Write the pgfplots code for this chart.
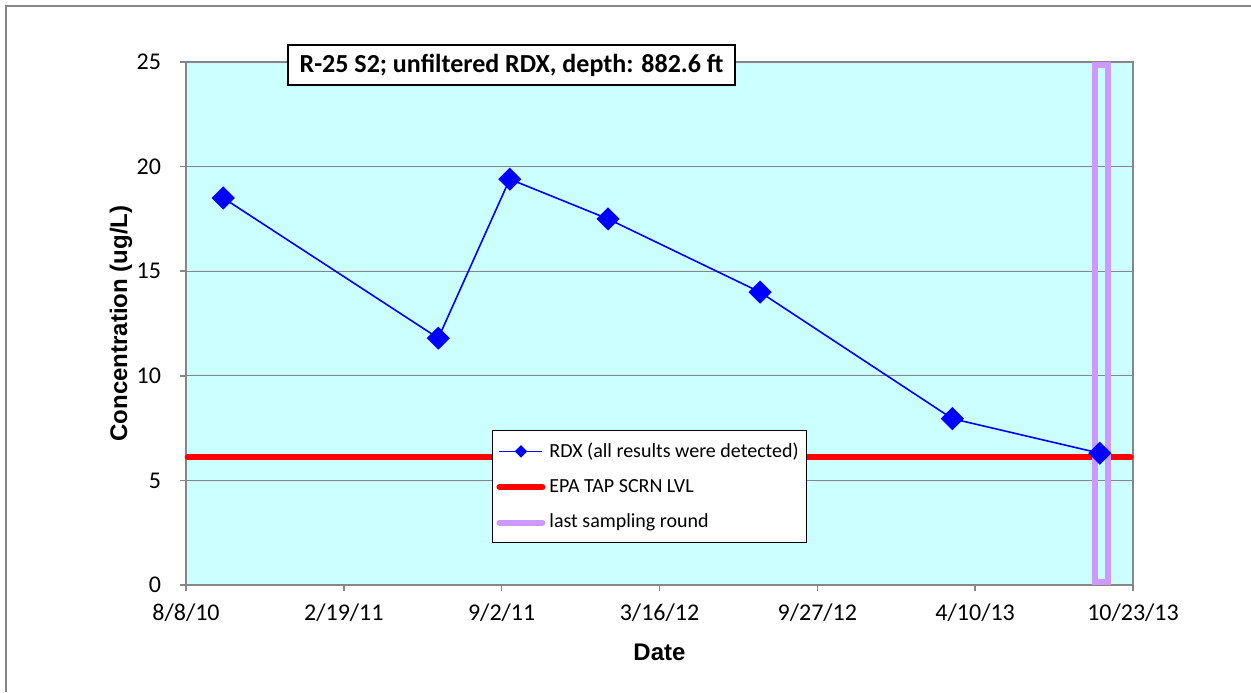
\documentclass[border=0pt]{standalone}
\usepackage{fontspec}
\setmainfont{Carlito}
\newfontfamily\arialfont{Liberation Sans}
\usepackage{pgfplots}
\pgfplotsset{compat=1.18}
\definecolor{bgcyan}{RGB}{204,255,255}
\definecolor{axgray}{RGB}{134,134,134}
\definecolor{lastpurple}{RGB}{204,153,255}
\begin{document}
\begin{tikzpicture}
\useasboundingbox (0pt,0pt) rectangle (625.5pt,346pt);
\draw[axgray,line width=1pt] (3pt,0pt) -- (3pt,343pt) -- (625.5pt,343pt);
\begin{axis}[
  at={(93pt,53.5pt)}, anchor=south west,
  scale only axis, width=473.5pt, height=261.5pt,
  xmin=0, xmax=1170, ymin=0, ymax=25,
  xtick={0,195,390,585,780,975,1170},
  xticklabels={8/8/10,2/19/11,9/2/11,3/16/12,9/27/12,4/10/13,10/23/13},
  ytick={0,5,10,15,20,25},
  tick align=outside, tick pos=left,
  major tick length=3pt,
  every tick/.style={axgray,line width=0.8pt},
  axis line style={axgray,line width=1pt},
  ymajorgrids, grid style={axgray,line width=0.6pt},
  axis background/.style={fill=bgcyan},
  tick label style={font=\fontsize{12}{14}\selectfont},
  xticklabel style={yshift=-3pt},
  yticklabel style={xshift=-6pt},
  /pgf/number format/assume math mode=true,
  xlabel={Date}, ylabel={Concentration (ug/L)},
  xlabel style={at={(axis description cs:0.5,-0.128)},anchor=center,font=\arialfont\bfseries\fontsize{12}{14}\selectfont},
  ylabel style={at={(axis description cs:-0.0686,0.5)},anchor=center,rotate=0,font=\arialfont\bfseries\fontsize{12}{14}\selectfont},
  legend style={at={(0.3231,0.2964)}, anchor=north west, draw=black, line width=0.5pt, fill=white,
    font=\fontsize{10}{12}\selectfont, row sep=5.5pt, inner xsep=2pt, inner ysep=4pt},
  legend cell align=left,
  legend image code/.code={\draw[#1] (0pt,0pt) -- (21.5pt,0pt);},
  clip=false,
]
\addplot[blue, line width=0.8pt, mark=square*, mark size=3.7pt, mark options={rotate=45,solid,fill=blue},
  legend image code/.code={\draw[blue,line width=0.8pt] (0pt,0pt) -- (21.5pt,0pt);
    \draw[blue,fill=blue] plot[mark=square*,mark size=1.8pt,mark options={rotate=45}] coordinates {(10.75pt,0pt)};}]
  coordinates {(46,18.5) (311.7,11.8) (400,19.4) (521.4,17.5) (709.2,14.0) (946.8,7.95) (1129,6.3)};
\addlegendentry{RDX (all results were detected)}
\addplot[red, line width=3pt, line cap=round] coordinates {(2,6.1) (1167,6.1)};
\addlegendentry{EPA TAP SCRN LVL}
\addplot[lastpurple, line width=3pt, line join=miter, line cap=rect,
  legend image code/.code={\draw[lastpurple,line width=3pt,line cap=round] (0pt,0pt) -- (21.5pt,0pt);}]
  coordinates {(1122.5,0.14) (1138.5,0.14) (1138.5,24.86) (1122.5,24.86) (1122.5,0.14)};
\addlegendentry{last sampling round}
\end{axis}
\node[draw=black, line width=0.6pt, fill=white, minimum width=223.5pt, minimum height=20pt, inner sep=0pt,
  font=\bfseries\fontsize{13}{15}\selectfont] at (255.75pt,313.5pt) {R-25 S2; unfiltered RDX, depth: 882.6 ft};
\end{tikzpicture}
\end{document}
